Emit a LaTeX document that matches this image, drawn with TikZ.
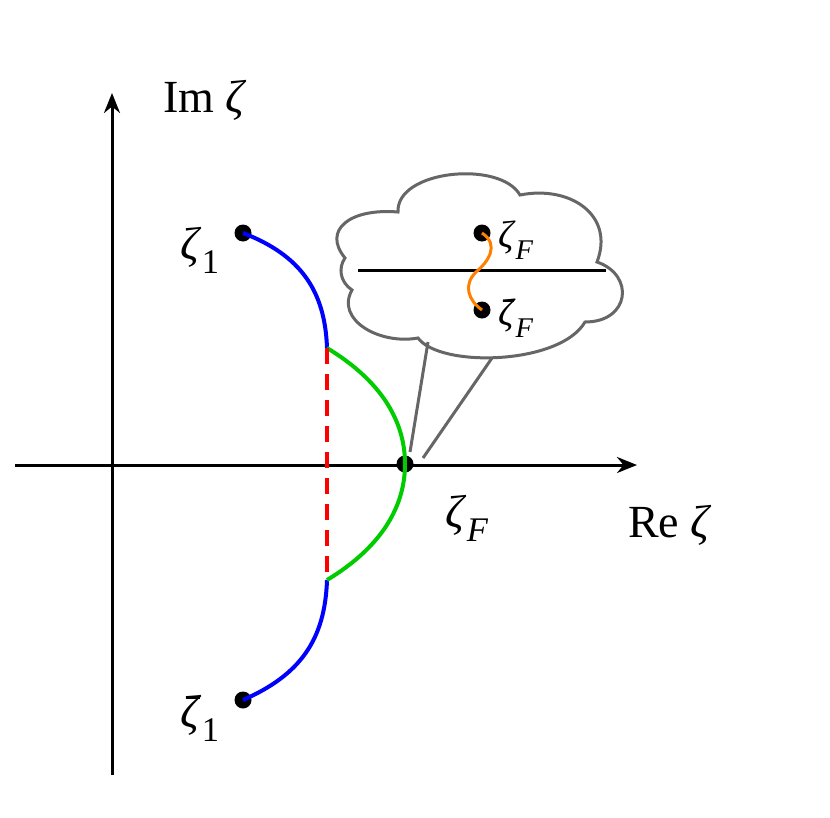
\documentclass[tikz,border=0pt]{standalone}
\usepackage{fontspec}
\setmainfont{Liberation Serif}
\usetikzlibrary{arrows.meta}
\newcommand\zsubs[1]{\raisebox{-0.3em}{\fontsize{0.75\dimexpr\fontdimen6\font}{10}\selectfont #1}}
\newcommand\zlab[2]{\textit{ζ}\zsubs{#2}}
\newcommand\zbar{\ooalign{\textit{ζ}\cr\hfil\kern0.08em\raisebox{0.62em}{\rule{0.3em}{0.055em}}\hfil}}
\newcommand\zblab[1]{\zbar\zsubs{#1}}
\begin{document}
\begin{tikzpicture}[x=1pt,y=-1pt,
  lbl/.style={font=\fontsize{46}{50}\selectfont, inner sep=0pt},
  slbl/.style={font=\fontsize{38}{42}\selectfont, inner sep=0pt, anchor=west},
  dot/.style={circle,fill=black,inner sep=0pt,minimum size=17pt},
  axis/.style={line width=3pt,-{Stealth[length=20pt,width=16pt]}},
  cl/.style={line width=3pt, draw=black!60}]
\useasboundingbox (0,0) rectangle (830,817);
\coordinate (xs) at (15,465); \coordinate (xe) at (637,465);
\coordinate (ys) at (112,775); \coordinate (ye) at (112,93);
\draw[axis] (xs) -- (xe);
\draw[axis] (ys) -- (ye);
\node[dot] (z1) at (243,233) {};
\node[dot] (z1b) at (243,700) {};
\node[dot] (zF) at (405,464) {};
\coordinate (a) at (327,348); \coordinate (b) at (327,580);
\draw[blue,line width=4pt] (z1.center) .. controls (300,255) and (325,290) .. (a);
\draw[blue,line width=4pt] (b) .. controls (325,640) and (300,675) .. (z1b.center);
\draw[green!80!black,line width=4pt] (a) .. controls (380,380) and (405,420) .. (zF.center) .. controls (405,508) and (380,548) .. (b);
\draw[red,line width=4pt,dash pattern=on 16pt off 10pt] (a) -- (b);
\node[lbl] (im) at (205,100) {Im \textit{ζ}};
\node[lbl] (re) at (670,525) {Re \textit{ζ}};
\node[lbl] (l1) at (200,250) {\zlab{ζ}{1}};
\node[lbl] (l1b) at (200,718) {\zblab{1}};
\node[lbl] (lF) at (467,518) {\zlab{ζ}{\textit{F}}};
% cloud
\draw[cl,fill=white] (345,258) .. controls (322,230) and (350,208) .. (398,212)
  .. controls (396,170) and (500,160) .. (520,195)
  .. controls (570,185) and (615,215) .. (597,262)
  .. controls (635,275) and (630,322) .. (585,322)
  .. controls (560,365) and (440,368) .. (418,338)
  .. controls (380,345) and (335,320) .. (352,290)
  .. controls (340,282) and (338,268) .. (345,258) -- cycle;
\coordinate (c1) at (428,342); \coordinate (c2) at (492,358);
\draw[cl] (c1) -- (410,452);
\draw[cl] (c2) -- (423,458);
\coordinate (h1) at (358,270); \coordinate (h2) at (606,270);
\draw[line width=3pt] (h1) -- (h2);
\node[dot] (p1) at (482,233) {};
\node[dot] (p2) at (482,310) {};
\draw[orange,line width=3pt] (p1.center) .. controls (500,245) and (488,262) .. (476,272) .. controls (463,285) and (468,300) .. (p2.center);
\node[slbl] (pl1) at (498,240) {\zlab{ζ}{\textit{F}}};
\node[slbl] (pl2) at (498,318) {\zblab{\textit{F}}};
\end{tikzpicture}
\end{document}
